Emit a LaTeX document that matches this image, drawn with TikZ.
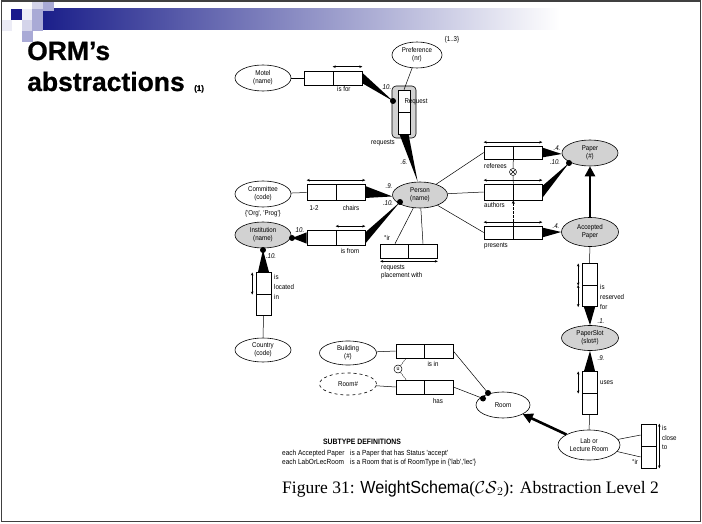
\documentclass[tikz,border=0pt]{standalone}
\usepackage{fontspec}
\setmainfont{Liberation Sans}
\newfontfamily\narrowfont[FakeStretch=0.88]{Liberation Sans}
\newfontfamily\titlefont[BoldFeatures={FakeBold=0.7}]{Liberation Sans}
\newfontfamily\capfont{Liberation Serif}
\newfontfamily\wsfont[FakeStretch=0.92]{Liberation Sans}
\usetikzlibrary{shapes.geometric,arrows.meta,calc}

\definecolor{entgray}{HTML}{D2D2D2}
\definecolor{framegray}{HTML}{404040}
\definecolor{navy}{HTML}{1B1F8A}
\definecolor{sqdark}{HTML}{1A1A8C}
\definecolor{sqlight}{HTML}{D4D4EA}
\definecolor{sqmid}{HTML}{A9AAD6}
\definecolor{sqpale}{HTML}{ECECF6}

% tapered weight bar from a role-box side (#1 -- #2) to a point #3
\newcommand\roleweight[3]{\fill ($(#1)!0.14!(#2)$) -- ($(#1)!0.86!(#2)$) -- (#3) -- cycle;}

\begin{document}
\begin{tikzpicture}[x=1pt,y=-1pt,
  every node/.style={inner sep=0pt, font=\narrowfont\fontsize{7}{8}\selectfont},
  ent/.style={ellipse, draw, line width=0.6pt, minimum width=56pt, minimum height=26pt, align=center, fill=white},
  entg/.style={ent, fill=entgray},
  role/.style={rectangle, draw, line width=0.6pt, minimum width=29pt, minimum height=14pt, fill=white},
  vrole/.style={rectangle, draw, line width=0.6pt, minimum width=15pt, minimum height=21.5pt, fill=white},
  rdot/.style={circle, fill=black, minimum size=6pt},
  conn/.style={line width=0.5pt},
  uq/.style={line width=0.5pt, {Stealth[length=3pt,width=2.6pt]}-{Stealth[length=3pt,width=2.6pt]}},
  isa/.style={line width=2.6pt, -{Triangle[length=10pt,width=10pt]}},
  lbl/.style={anchor=base west},
  wt/.style={font=\narrowfont\fontsize{7}{8}\selectfont\itshape},
  sqr/.style={inner sep=0pt, minimum size=11pt, anchor=north west, fill=#1},
  subtxt/.style={anchor=base west, font=\narrowfont\fontsize{7.4}{8}\selectfont},
]
\useasboundingbox (0,0) rectangle (702,524);
\fill[white] (0,0) rectangle (702,524);

% header band and pixel squares
\shade[left color=navy, right color=white] (43,9) rectangle (560,30);
\node[sqr=sqlight] (s1) at (32,0) {};
\node[sqr=sqmid] (s2) at (43,0) {};
\node[sqr=sqdark] (s3) at (11,9) {};
\node[sqr=sqpale] (s4) at (22,9) {};
\node[sqr=sqmid] (s5) at (32,9) {};
\node[sqr=sqlight] (s6) at (22,20) {};
\node[sqr=sqmid] (s7) at (32,20) {};
\node[sqr=sqmid] (s8) at (22,31) {};
\node[sqr=sqpale] (s9) at (1,20) {};
\draw[framegray, line width=1.5pt] (1.5,1) rectangle (700.5,521.5);

% slide title
\node[anchor=base west, font=\titlefont\fontsize{26.5}{28}\selectfont\bfseries] (t1) at (27,60) {ORM’s};
\node[anchor=base west, font=\titlefont\fontsize{26.5}{28}\selectfont\bfseries] (t2) at (27,91) {abstractions};
\node[anchor=base west, font=\titlefont\fontsize{8}{9}\selectfont\bfseries] (t3) at (194,91) {(1)};

% ---------------- Motel / Request / Preference
\node[ent] (motel) at (263,78) {Motel\\(name)};
\node[role] (isfor1) at (318.5,78) {};
\node[role] (isfor2) at (347.5,78) {};
\draw[conn] (motel) -- (isfor1);
\draw[uq] ([yshift=4pt]isfor2.north west) -- ([yshift=4pt]isfor2.north east);
\node[lbl] (lisfor) at (337,92) {is for};

\node[rectangle, draw, line width=0.6pt, rounded corners=4pt, fill=entgray, minimum width=24pt, minimum height=52pt] (reqframe) at (404,112) {};
\node[vrole, minimum width=12pt, minimum height=22pt] (req1) at (404,101) {};
\node[vrole, minimum width=12pt, minimum height=22pt] (req2) at (404,123) {};
\node (reqlbl) at (416,102) {Request};
\node[rdot] (reqdot) at (393,101) {};
\roleweight{isfor2.north east}{isfor2.south east}{reqdot.center}
\node[wt] (w10a) at (387,87) {10.};

\node[ent, minimum width=50pt] (pref) at (417,55) {Preference\\(nr)};
\node (prefc) at (452,40) {\{1..3\}};
\draw[conn] (pref) -- (req1.north);

% ---------------- Person
\node[entg, minimum width=55pt] (person) at (420,195) {Person\\(name)};
\roleweight{req2.south west}{req2.south east}{person.100}
\node (lreqs) at (383,143) {requests};
\node[wt] (w6) at (404,162) {.6.};

% ---------------- Committee / chairs
\node[ent] (committee) at (263,194) {Committee\\(code)};
\node (orgprog) at (263,214) {\{'Org', 'Prog'\}};
\node[role, minimum height=16pt] (ch1) at (321.5,192) {};
\node[role, minimum height=16pt] (ch2) at (350.5,192) {};
\draw[conn] (committee) -- (ch1);
\draw[uq] ([yshift=3.5pt]ch1.north west) -- ([yshift=3.5pt]ch2.north east);
\node (l12) at (314,208) {1-2};
\node (lchairs) at (351,208) {chairs};
\roleweight{ch2.north east}{ch2.south east}{person.183}
\node[wt] (w9) at (389,186) {.9.};

% ---------------- Institution / is from
\node[entg] (inst) at (263,235) {Institution\\(name)};
\node[rdot] (instdot) at (292,238) {};
\node[role, minimum height=15pt] (fr1) at (321.5,238) {};
\node[role, minimum height=15pt] (fr2) at (350.5,238) {};
\draw[uq] ([yshift=4pt]fr2.north west) -- ([yshift=4pt]fr2.north east);
\node (lisfrom) at (350,251) {is from};
\node[rdot] (persdot) at (400,202) {};
\roleweight{fr1.north west}{fr1.south west}{instdot.center}
\roleweight{fr2.north east}{fr2.south east}{persdot.center}
\node[wt] (w10b) at (300,230) {10.};
\node[wt] (w10c) at (388,203) {.10.};

% ---------------- is located in / Country
\node[rdot] (instdot2) at (263,250) {};
\node[vrole] (loc1) at (263.5,283.5) {};
\node[vrole] (loc2) at (263.5,305) {};
\roleweight{loc1.north west}{loc1.north east}{instdot2.center}
\node[wt] (w10d) at (271,256) {.10.};
\draw[uq] ([xshift=-3.5pt]loc1.north west) -- ([xshift=-3.5pt]loc1.south west);
\node[anchor=west] (lloc1) at (274,277) {is};
\node[anchor=west] (lloc2) at (274,287) {located};
\node[anchor=west] (lloc3) at (274,297) {in};
\node[ent, minimum height=24pt] (country) at (263,350) {Country\\(code)};
\draw[conn] (loc2) -- (country);

% ---------------- requests placement with
\node[role] (rp1) at (395,251) {};
\node[role] (rp2) at (423,251) {};
\draw[conn] (rp1.north) -- (person);
\draw[conn] (rp2.north) -- (person);
\draw[uq] ([yshift=-3pt]rp1.south west) -- ([yshift=-3pt]rp2.south east);
\node (lir) at (387,238) {°ir};
\node[anchor=west] (lrp1) at (381,268) {requests};
\node[anchor=west] (lrp2) at (381,276) {placement with};

% ---------------- Paper side
\node[entg] (paper) at (590,153) {Paper\\(\#)};
\node[role, minimum height=13pt] (rf1) at (498.5,152.5) {};
\node[role, minimum height=13pt] (rf2) at (527.5,152.5) {};
\draw[uq] ([yshift=3.5pt]rf1.north west) -- ([yshift=3.5pt]rf2.north east);
\node[anchor=west] (lref) at (484,166) {referees};
\roleweight{rf2.north east}{rf2.south east}{paper.182}
\node[wt] (w4a) at (557,148) {.4.};

\node[role, minimum height=16pt] (au1) at (498.5,192) {};
\node[role, minimum height=16pt] (au2) at (527.5,192) {};
\draw[uq] ([yshift=3.5pt]au1.north west) -- ([yshift=3.5pt]au2.north east);
\node[anchor=west] (laut) at (484,205) {authors};
\node[rdot] (paperdot) at (569,163) {};
\roleweight{au2.north east}{au2.south east}{paperdot.center}
\node[wt] (w10e) at (555,162) {.10.};

\node[circle, draw, line width=0.5pt, minimum size=7pt,
  path picture={\draw[line width=0.5pt] (path picture bounding box.north west) -- (path picture bounding box.south east)
  (path picture bounding box.north east) -- (path picture bounding box.south west);}] (excl) at (513,172) {};
\draw[conn] (rf1.south east) -- (excl);
\draw[conn] (excl) -- (au1.north east);

\node[role, minimum height=13pt] (pr1) at (498.5,232.5) {};
\node[role, minimum height=13pt] (pr2) at (527.5,232.5) {};
\draw[uq] ([yshift=3.5pt]pr1.north west) -- ([yshift=3.5pt]pr2.north east);
\node[anchor=west] (lpres) at (484,246) {presents};
\draw[line width=0.6pt, dashed, dash pattern=on 2.5pt off 1.5pt, -{Stealth[length=3.5pt,width=3pt]}] (pr1.north east) -- (au1.south east);

\draw[conn] (person) -- (rf1.west);
\draw[conn] (person) -- (au1.west);
\draw[conn] (person) -- (pr1.west);

\node[entg, minimum width=57pt, minimum height=29pt] (accp) at (590,232) {Accepted\\Paper};
\roleweight{pr2.north east}{pr2.south east}{accp.180}
\node[wt] (w4b) at (556,226) {.4.};
\draw[isa] (accp) -- (paper);

% ---------------- is reserved for / PaperSlot / uses
\node[vrole] (rs1) at (589.5,274.5) {};
\node[vrole] (rs2) at (589.5,296) {};
\draw[conn] (accp) -- (rs1);
\draw[uq] ([xshift=-3.5pt]rs1.north west) -- ([xshift=-3.5pt]rs1.south west);
\draw[uq] ([xshift=-3.5pt]rs2.north west) -- ([xshift=-3.5pt]rs2.south west);
\node[anchor=west] (lrs1) at (600,287) {is};
\node[anchor=west] (lrs2) at (600,297) {reserved};
\node[anchor=west] (lrs3) at (600,307) {for};
\node[entg, minimum width=57pt, minimum height=25pt] (slot) at (590,338) {PaperSlot\\(slot\#)};
\roleweight{rs2.south west}{rs2.south east}{slot.north}
\node[wt] (w1) at (601,321) {.1.};

\node[vrole] (us1) at (589.5,382.5) {};
\node[vrole] (us2) at (589.5,404) {};
\roleweight{us1.north west}{us1.north east}{slot.south}
\node[wt] (w9b) at (601,358) {.9.};
\draw[uq] ([xshift=-3.5pt]us1.north west) -- ([xshift=-3.5pt]us1.south west);
\node[anchor=west] (luses) at (600,383) {uses};

\node[ent, minimum width=62pt, minimum height=30pt] (lab) at (589,445) {Lab or\\Lecture Room};
\draw[conn] (us2) -- (lab);

\node[vrole, minimum height=22pt] (cl1) at (648.5,435) {};
\node[vrole, minimum height=22pt] (cl2) at (648.5,457) {};
\draw[uq] ([xshift=3pt]cl1.north east) -- ([xshift=3pt]cl2.south east);
\node[anchor=west] (lcl1) at (662,428) {is};
\node[anchor=west] (lcl2) at (662,438) {close};
\node[anchor=west] (lcl3) at (662,447) {to};
\draw[conn] (lab) -- (cl1.west);
\draw[conn] (lab) -- (cl2.west);
\node (lir2) at (635,462) {°ir};

% ---------------- Room, Building, Room#
\node[ent, minimum width=54pt] (room) at (503,405) {Room};
\draw[isa] (lab) -- (room);

\node[ent, minimum width=57pt, minimum height=24pt] (bldg) at (348,353) {Building\\(\#)};
\node[ent, minimum width=57pt, minimum height=22pt, dashed] (roomnr) at (348,384) {Room\#};
\node[role] (in1) at (410.5,351) {};
\node[role] (in2) at (438.5,351) {};
\node (lisin) at (433,364) {is in};
\node[role] (hs1) at (410.5,387) {};
\node[role] (hs2) at (438.5,387) {};
\node (lhas) at (438,401) {has};
\draw[conn] (bldg) -- (in1.west);
\draw[conn] (roomnr) -- (hs1.west);
\node[rdot] (rd1) at (488,393) {};
\node[rdot] (rd2) at (483,398.5) {};
\draw[conn] (in2.east) -- (rd1.center);
\draw[conn] (hs2.east) -- (rd2.center);
\node[circle, draw, line width=0.5pt, minimum size=8pt, font=\narrowfont\fontsize{6}{6}\selectfont] (uc) at (398,369) {u};
\draw[conn, dashed, dash pattern=on 1.5pt off 1pt] (uc) -- ($(in1.south west)!0.35!(in1.south east)$);
\draw[conn, dashed, dash pattern=on 1.5pt off 1pt] (uc) -- ($(hs1.north west)!0.35!(hs1.north east)$);

% ---------------- subtype definitions
\node[font=\narrowfont\fontsize{7.8}{9}\selectfont\bfseries] (sthead) at (362,442) {SUBTYPE DEFINITIONS};
\node[subtxt] (st1a) at (282,455) {each Accepted Paper};
\node[subtxt] (st1b) at (350,455) {is a Paper that has Status 'accept'};
\node[subtxt] (st2a) at (282,464) {each LabOrLecRoom};
\node[subtxt] (st2b) at (350,464) {is a Room that is of RoomType in \{'lab','lec'\}};

% ---------------- caption
\node[anchor=base west, font=\capfont\fontsize{17.5}{20}\selectfont] (cap) at (282,493)
  {Figure 31: {\wsfont WeightSchema}($\mathcal{CS}_2$): Abstraction Level 2};
\end{tikzpicture}
\end{document}
